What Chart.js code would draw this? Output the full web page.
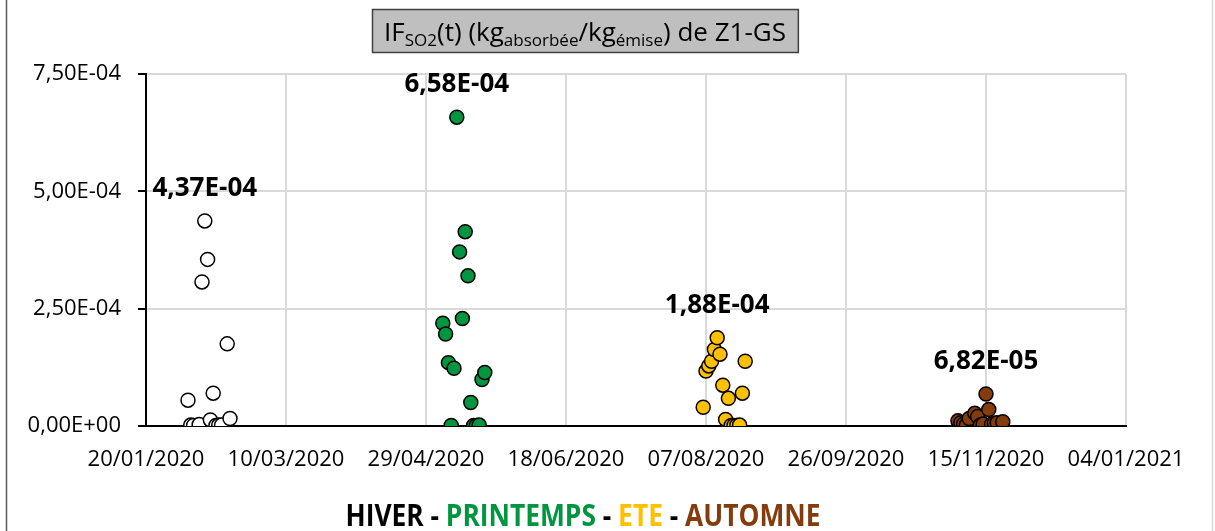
<!DOCTYPE html>
<html>
<head>
<meta charset="utf-8">
<script src="https://cdn.jsdelivr.net/npm/chart.js@4.4.1/dist/chart.umd.min.js"></script>
<style>
  html, body { margin: 0; padding: 0; background: #ffffff; }
  #wrap { width: 1215px; height: 531px; position: relative; }
</style>
</head>
<body>
<div id="wrap"><canvas id="c" width="1215" height="531"></canvas></div>
<script>
// ---------- DATA ----------
const xTickLabels = ['20/01/2020','10/03/2020','29/04/2020','18/06/2020','07/08/2020','26/09/2020','15/11/2020','04/01/2021'];
const yTicks = [0, 2.5e-4, 5e-4, 7.5e-4];

const hiverDates  = ['2020-02-04','2020-02-05','2020-02-06','2020-02-08','2020-02-09','2020-02-10','2020-02-11','2020-02-12','2020-02-13','2020-02-14','2020-02-15','2020-02-16','2020-02-18','2020-02-19'];
const hiverValues = [5.5e-5, 2e-6, 1e-6, 3e-6, 3.07e-4, 4.37e-4, 3.55e-4, 1.3e-5, 7.0e-5, 1e-6, 2e-6, 2e-6, 1.75e-4, 1.6e-5];

const printempsDates  = ['2020-05-05','2020-05-06','2020-05-07','2020-05-08','2020-05-09','2020-05-10','2020-05-11','2020-05-12','2020-05-13','2020-05-14','2020-05-15','2020-05-16','2020-05-17','2020-05-18','2020-05-19','2020-05-20'];
const printempsValues = [2.19e-4, 1.96e-4, 1.35e-4, 1e-6, 1.23e-4, 6.58e-4, 3.71e-4, 2.29e-4, 4.14e-4, 3.20e-4, 5.0e-5, 1e-6, 1e-6, 2e-6, 9.9e-5, 1.14e-4];

const eteDates  = ['2020-08-06','2020-08-07','2020-08-08','2020-08-09','2020-08-10','2020-08-11','2020-08-12','2020-08-13','2020-08-14','2020-08-15','2020-08-16','2020-08-17','2020-08-18','2020-08-19','2020-08-20','2020-08-21'];
const eteValues = [4.0e-5, 1.17e-4, 1.28e-4, 1.38e-4, 1.63e-4, 1.88e-4, 1.53e-4, 8.7e-5, 1.4e-5, 5.9e-5, 1e-6, 1e-6, 1e-6, 2e-6, 7.0e-5, 1.38e-4];

const automneDates  = ['2020-11-05','2020-11-06','2020-11-07','2020-11-08','2020-11-09','2020-11-11','2020-11-12','2020-11-13','2020-11-14','2020-11-15','2020-11-16','2020-11-17','2020-11-18','2020-11-19','2020-11-21'];
const automneValues = [1.1e-5, 7e-6, 4e-6, 2e-6, 1.6e-5, 2.7e-5, 2.0e-5, 2e-6, 4e-6, 6.82e-5, 3.5e-5, 4e-6, 6e-6, 7e-6, 9e-6];

const seasonNames  = ['HIVER', 'PRINTEMPS', 'ETE', 'AUTOMNE'];
const seasonColors = ['#ffffff', '#00953f', '#ffc000', '#843c0c'];
const seasonTextColors = ['#000000', '#00953f', '#ffc000', '#843c0c'];

const titleSegments = [['IF', false], ['SO2', true], ['(t) (kg', false], ['absorbée', true], ['/kg', false], ['émise', true], [') de Z1-GS', false]];

// ---------- HELPERS ----------
function parseFr(s) { const [d, m, y] = s.split('/').map(Number); return Date.UTC(y, m - 1, d); }
function parseIso(s) { const [y, m, d] = s.split('-').map(Number); return Date.UTC(y, m - 1, d); }
const origin = parseFr(xTickLabels[0]);
const dayOf = ms => Math.round((ms - origin) / 86400000);
const xMax = dayOf(parseFr(xTickLabels[xTickLabels.length - 1]));
const xStep = xMax / (xTickLabels.length - 1);

function fmtSci(v) {
  let s = Number(v).toExponential(2);
  let [mant, exp] = s.split('e');
  let sign = exp[0] === '-' ? '-' : '+';
  let n = Math.abs(parseInt(exp, 10));
  return mant.replace('.', ',') + 'E' + sign + (n < 10 ? '0' + n : '' + n);
}

function series(dates, values) {
  return dates.map((d, i) => ({ x: dayOf(parseIso(d)), y: values[i] }));
}

const allDates = [hiverDates, printempsDates, eteDates, automneDates];
const allValues = [hiverValues, printempsValues, eteValues, automneValues];

const datasets = seasonNames.map((name, i) => ({
  label: name,
  data: series(allDates[i], allValues[i]),
  backgroundColor: seasonColors[i],
  borderColor: '#000000',
  borderWidth: 1.5,
  pointRadius: 7,
  pointHoverRadius: 7,
  showLine: false
}));

const FONT = "'Open Sans', 'Noto Sans', sans-serif";

// ---------- PLUGINS ----------
const decorPlugin = {
  id: 'decor',
  afterDraw(chart) {
    const ctx = chart.ctx;
    ctx.save();
    // outer frame
    ctx.strokeStyle = '#595959';
    ctx.lineWidth = 1.5;
    ctx.beginPath(); ctx.moveTo(6.5, 0); ctx.lineTo(6.5, 531); ctx.stroke();
    ctx.strokeStyle = '#d9d9d9';
    ctx.beginPath(); ctx.moveTo(1212.5, 0); ctx.lineTo(1212.5, 531); ctx.stroke();

    // max labels
    ctx.fillStyle = '#000000';
    ctx.font = 'bold 26px ' + FONT;
    ctx.textAlign = 'center';
    ctx.textBaseline = 'alphabetic';
    chart.data.datasets.forEach((ds, di) => {
      const meta = chart.getDatasetMeta(di);
      let best = 0;
      ds.data.forEach((p, i) => { if (p.y > ds.data[best].y) best = i; });
      const el = meta.data[best];
      ctx.fillText(fmtSci(ds.data[best].y), el.x, el.y - 25);
    });

    // title box
    const mainFont = '26px ' + FONT;
    const subFont = '17px ' + FONT;
    let w = 0;
    titleSegments.forEach(([t, sub]) => { ctx.font = sub ? subFont : mainFont; w += ctx.measureText(t).width; });
    const cx = 585, boxTop = 9, boxH = 43;
    const padX = 12;
    const bx = Math.round(cx - w / 2 - padX) + 0.5;
    ctx.fillStyle = '#bfbfbf';
    ctx.fillRect(bx, boxTop + 0.5, w + 2 * padX, boxH);
    ctx.strokeStyle = '#404040';
    ctx.lineWidth = 1.5;
    ctx.strokeRect(bx, boxTop + 0.5, w + 2 * padX, boxH);
    ctx.fillStyle = '#000000';
    ctx.textAlign = 'left';
    let x = cx - w / 2;
    const base = 41;
    titleSegments.forEach(([t, sub]) => {
      ctx.font = sub ? subFont : mainFont;
      ctx.fillText(t, x, sub ? base + 5 : base);
      x += ctx.measureText(t).width;
    });

    // bottom legend line
    ctx.font = 'bold 30px ' + FONT;
    const parts = [];
    seasonNames.forEach((n, i) => {
      if (i > 0) parts.push([' - ', '#000000']);
      parts.push([n, seasonTextColors[i]]);
    });
    let lw = 0;
    parts.forEach(([t]) => { lw += ctx.measureText(t).width; });
    const targetW = 475, lcx = 583, lbase = 526;
    const sx = targetW / lw;
    ctx.translate(lcx - targetW / 2, lbase);
    ctx.scale(sx, 1);
    let lx = 0;
    parts.forEach(([t, c]) => {
      ctx.fillStyle = c;
      ctx.fillText(t, lx, 0);
      lx += ctx.measureText(t).width;
    });
    ctx.restore();
  }
};

// ---------- CHART ----------
Chart.defaults.font.family = FONT;
Chart.defaults.color = '#000000';

new Chart(document.getElementById('c'), {
  type: 'scatter',
  data: { datasets },
  options: {
    responsive: false,
    animation: false,
    events: [],
    layout: { padding: { top: 74, right: 89, left: 0, bottom: 0 } },
    plugins: { legend: { display: false }, title: { display: false }, tooltip: { enabled: false } },
    scales: {
      x: {
        type: 'linear',
        min: 0,
        max: xMax,
        afterFit(scale) { scale.height = 105; },
        afterBuildTicks(scale) {
          scale.ticks = xTickLabels.map((_, i) => ({ value: i * xStep }));
        },
        ticks: {
          font: { size: 22 },
          color: '#000000',
          padding: 21,
          maxRotation: 0,
          autoSkip: false,
          callback: (v, i) => xTickLabels[i]
        },
        grid: { color: '#d9d9d9', lineWidth: 2, drawTicks: false },
        border: { color: '#000000', width: 2 }
      },
      y: {
        min: yTicks[0],
        max: yTicks[yTicks.length - 1],
        afterFit(scale) { scale.width = 146; },
        afterBuildTicks(scale) {
          scale.ticks = yTicks.map(v => ({ value: v }));
        },
        ticks: {
          font: { size: 22 },
          color: '#000000',
          padding: 17,
          callback: (v) => fmtSci(v)
        },
        grid: { color: '#d9d9d9', lineWidth: 2, drawTicks: true, tickLength: 8, tickColor: '#000000' },
        border: { color: '#000000', width: 2 }
      }
    }
  },
  plugins: [decorPlugin]
});
</script>
</body>
</html>
